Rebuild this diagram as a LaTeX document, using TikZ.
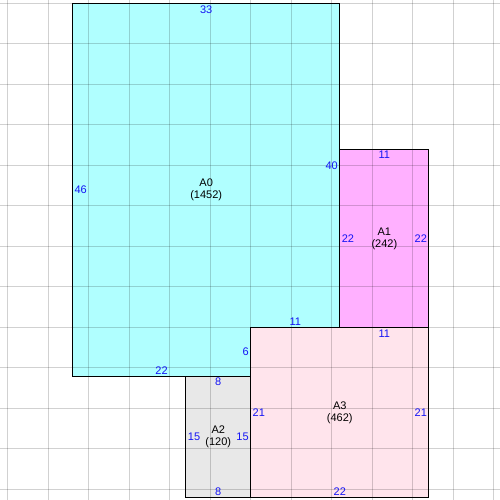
\documentclass[tikz,border=0pt]{standalone}
\usepackage{fontspec}
\setmainfont{Liberation Sans}
\definecolor{numblue}{RGB}{20,20,245}
\definecolor{cyanfill}{RGB}{176,255,255}
\definecolor{magfill}{RGB}{255,176,255}
\definecolor{grayfill}{RGB}{232,232,232}
\definecolor{pinkfill}{RGB}{255,228,236}
\begin{document}
\begin{tikzpicture}[x=8.1pt,y=-8.1pt,
  lbl/.style={font=\fontsize{11}{12}\selectfont, text=numblue, inner sep=1.8pt},
  ttl/.style={font=\fontsize{11}{12}\selectfont, align=center, inner sep=0pt},
  region/.style={draw=black, line width=1pt},
  gridline/.style={draw=black, opacity=0.18, line width=1pt}]
\useasboundingbox (-8.951,-0.432) rectangle (52.778,61.296);
% fills
\fill[cyanfill] (0,0) -- (33,0) -- (33,40) -- (22,40) -- (22,46) -- (0,46) -- cycle;
\fill[magfill] (33,18) rectangle (44,40);
\fill[grayfill] (14,46) rectangle (22,61);
\fill[pinkfill] (22,40) rectangle (44,61);
% grid
\foreach \u in {-8,-3,...,52} \draw[gridline] (\u,-1) -- (\u,62);
\foreach \v in {0,5,...,60} \draw[gridline] (-9,\v) -- (53,\v);
% borders
\draw[region] (0,0) -- (33,0) -- (33,40) -- (22,40) -- (22,46) -- (0,46) -- cycle;
\draw[region] (33,18) rectangle (44,40);
\draw[region] (14,46) rectangle (22,61);
\draw[region] (22,40) rectangle (44,61);
% A0 labels
\node[lbl, anchor=north] (a0t) at (16.5,0) {33};
\node[lbl, anchor=west]  (a0l) at (0,23) {46};
\node[lbl, anchor=east]  (a0r) at (33,20) {40};
\node[lbl, anchor=south] (a0s) at (27.5,40) {11};
\node[lbl, anchor=east]  (a0st) at (22,43) {6};
\node[lbl, anchor=south] (a0b) at (11,46) {22};
\node[ttl] (a0) at (16.5,23) {A0\\(1452)};
% A1 labels
\node[lbl, anchor=north] (a1t) at (38.5,18) {11};
\node[lbl, anchor=west]  (a1l) at (33,29) {22};
\node[lbl, anchor=east]  (a1r) at (44,29) {22};
\node[ttl] (a1) at (38.5,29) {A1\\(242)};
% A2 labels
\node[lbl, anchor=north] (a2t) at (18,46) {8};
\node[lbl, anchor=west]  (a2l) at (14,53.5) {15};
\node[lbl, anchor=east]  (a2r) at (22,53.5) {15};
\node[lbl, anchor=south] (a2b) at (18,61) {8};
\node[ttl] (a2) at (18,53.5) {A2\\(120)};
% A3 labels
\node[lbl, anchor=north] (a3t) at (38.5,40) {11};
\node[lbl, anchor=west]  (a3l) at (22,50.5) {21};
\node[lbl, anchor=east]  (a3r) at (44,50.5) {21};
\node[lbl, anchor=south] (a3b) at (33,61) {22};
\node[ttl] (a3) at (33,50.5) {A3\\(462)};
\end{tikzpicture}
\end{document}
